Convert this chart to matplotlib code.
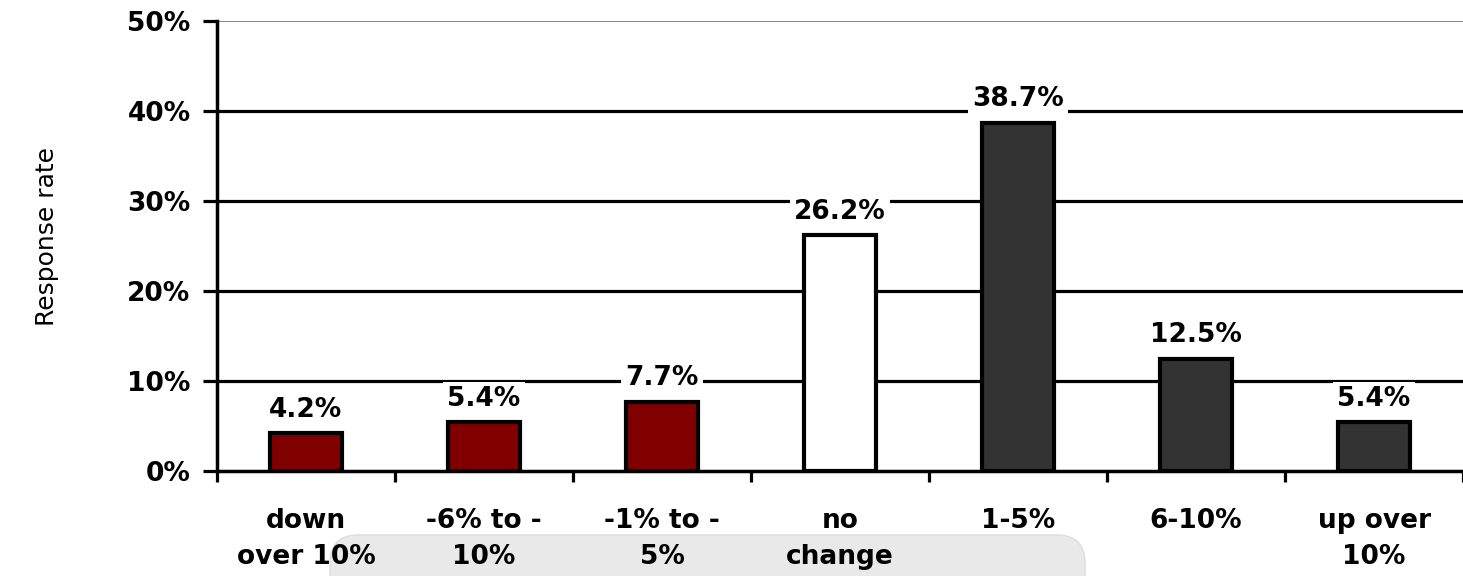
import matplotlib
matplotlib.use("Agg")
import matplotlib.pyplot as plt
from matplotlib.patches import FancyBboxPatch
from matplotlib.transforms import IdentityTransform

categories = ["down\nover 10%", "-6% to -\n10%", "-1% to -\n5%", "no\nchange",
              "1-5%", "6-10%", "up over\n10%"]
values = [4.2, 5.4, 7.7, 26.2, 38.7, 12.5, 5.4]
colors = ["#800000", "#800000", "#800000", "#ffffff", "#333333", "#333333", "#333333"]
yticks = [0, 10, 20, 30, 40, 50]

plt.rcParams['font.family'] = ['DejaVu Sans']

fig = plt.figure(figsize=(14.63, 5.76), dpi=100)
ax = fig.add_axes([217 / 1463, 105 / 576, 1 - 217 / 1463, 450 / 576])

x = list(range(len(categories)))
for yv in yticks[1:-1]:
    ax.axhline(yv, color="black", lw=2.3, zorder=1)
ax.axhline(50, color="#8c8c8c", lw=1.5, zorder=1)

ax.bar(x, values, width=0.4, color=colors, edgecolor="black", linewidth=3, zorder=2)

for xi, v in zip(x, values):
    ax.annotate(f"{v:.1f}%", (xi, v), xytext=(0, 12), textcoords="offset points",
                ha="center", va="baseline", fontsize=19, fontweight="bold",
                bbox=dict(boxstyle="square,pad=0.15", fc="white", ec="none"), zorder=3)

ax.set_xlim(-0.5, 6.45)
ax.set_ylim(0, 50)
ax.set_yticks(yticks)
ax.set_yticklabels([f"{t}%" for t in yticks], fontsize=19, fontweight="bold")
ax.tick_params(axis="y", length=10, width=2.3, pad=9)

ax.set_xticks(x)
ax.set_xticklabels(categories, fontsize=19, fontweight="bold", linespacing=1.45)
ax.set_xticks([i - 0.5 for i in range(len(categories) + 1)], minor=True)
ax.tick_params(axis="x", which="major", length=0, pad=27)
ax.tick_params(axis="x", which="minor", length=8, width=2.3)

for side in ["top", "right"]:
    ax.spines[side].set_visible(False)
for side in ["left", "bottom"]:
    ax.spines[side].set_linewidth(2.5)
    ax.spines[side].set_zorder(4)

ax.set_ylabel("Response rate", fontsize=18)
ax.yaxis.set_label_coords(-0.127, 0.52)

# grey rounded overlay at the bottom of the screenshot
overlay = FancyBboxPatch((330, -30), 755, 71, boxstyle="round,pad=0,rounding_size=28",
                         transform=IdentityTransform(), fc="#e9e9e9", ec="#dddddd",
                         lw=1, zorder=-1)
fig.add_artist(overlay)

fig.savefig("out.png", dpi=100)
